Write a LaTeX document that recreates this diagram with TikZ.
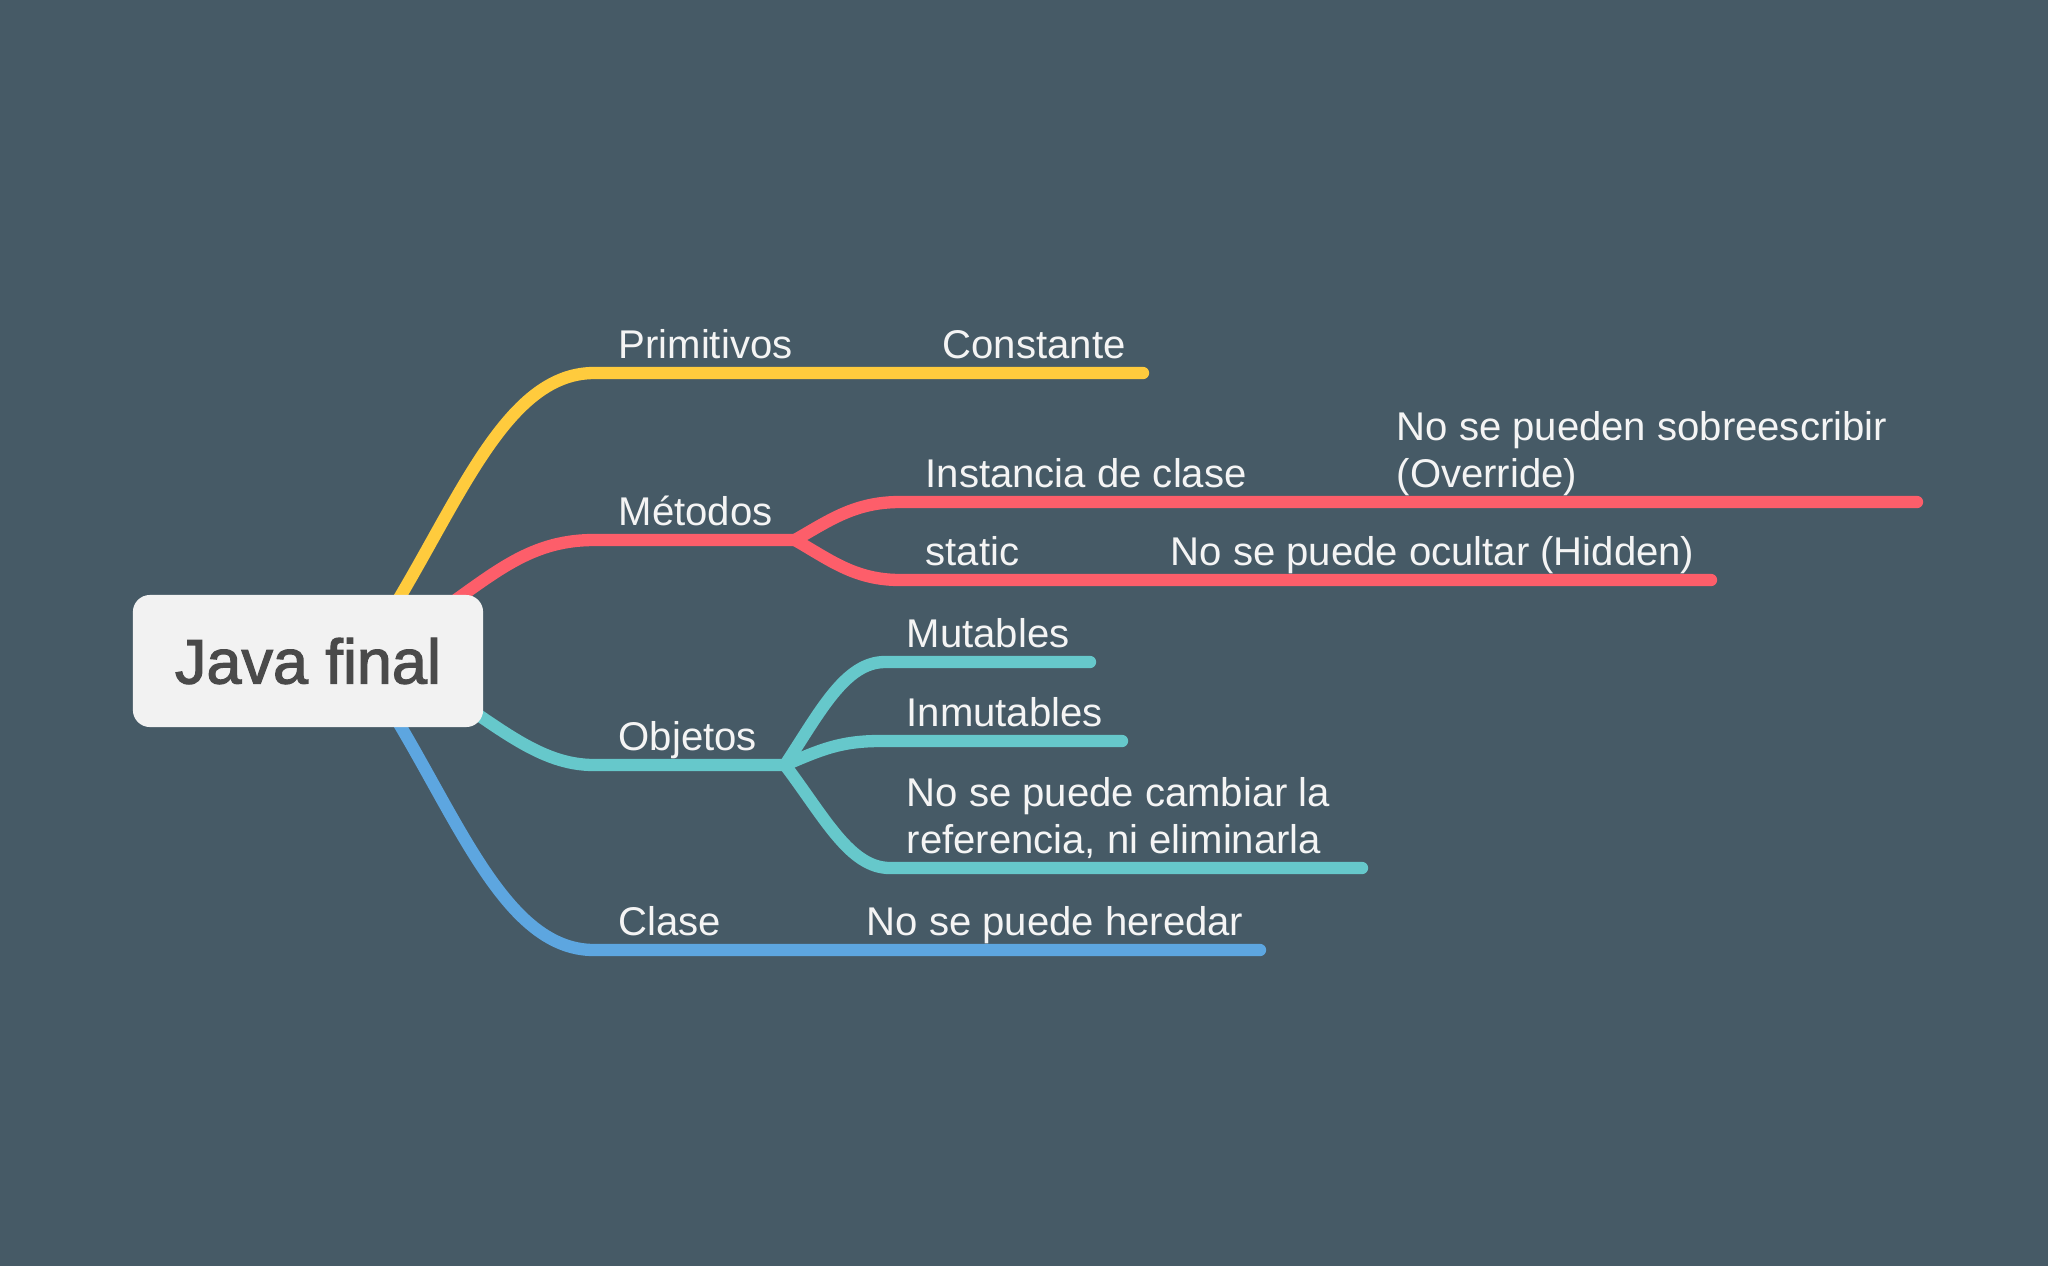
\documentclass[tikz,border=0pt]{standalone}
\usepackage{fontspec}
\usepackage{xcolor}
\setmainfont{Liberation Sans}
\newfontfamily\rootfont[FakeBold=2]{Liberation Sans}

\definecolor{bgslate}{HTML}{465A66}
\definecolor{rootfill}{HTML}{F2F2F2}
\definecolor{rootink}{HTML}{4A4A4A}
\definecolor{topicink}{HTML}{F4F4F4}
\definecolor{yelbranch}{HTML}{FFCB3D}
\definecolor{redbranch}{HTML}{FD5E6A}
\definecolor{tealbranch}{HTML}{66C8CB}
\definecolor{bluebranch}{HTML}{5DA6E0}

\tikzset{
  branch/.style={line width=3.5pt, line cap=round},
  topic/.style={anchor=south west, inner sep=0pt, text depth=0pt, align=left,
    text=topicink, font=\fontsize{11.4}{13.4}\selectfont},
  rootbox/.style={fill=rootfill, rounded corners=0.17cm, minimum width=3.5cm,
    minimum height=1.32cm, text=rootink, font=\rootfont\fontsize{17.9}{20}\selectfont}
}

\begin{document}
\begin{tikzpicture}[x=0.01cm, y=-0.01cm]
  \fill[bgslate] (0,0) rectangle (2048,1266);

  % branch knots
  \coordinate (yel0) at (373,640);
  \coordinate (red0) at (420,625);
  \coordinate (teal0) at (430,682);
  \coordinate (blue0) at (373,682);
  \coordinate (prim-l) at (594,373);
  \coordinate (const-r) at (1143,373);
  \coordinate (met-l) at (594,540);
  \coordinate (met-r) at (795,540);
  \coordinate (inst-l) at (900,502);
  \coordinate (over-r) at (1917,502);
  \coordinate (stat-l) at (900,580);
  \coordinate (hid-r) at (1711,580);
  \coordinate (obj-l) at (594,765);
  \coordinate (obj-r) at (785,765);
  \coordinate (mut-l) at (885,662);
  \coordinate (mut-r) at (1090,662);
  \coordinate (inmut-l) at (880,741);
  \coordinate (inmut-r) at (1122,741);
  \coordinate (ref-l) at (890,868);
  \coordinate (ref-r) at (1362,868);
  \coordinate (clase-l) at (594,950);
  \coordinate (hered-r) at (1260,950);

  \draw[branch, yelbranch] (yel0) .. controls (453,520) and (500,373) .. (prim-l) -- (const-r);

  \draw[branch, redbranch] (red0) .. controls (490,578) and (525,540) .. (met-l) -- (met-r);
  \draw[branch, redbranch] (met-r) .. controls (830,520) and (855,502) .. (inst-l) -- (over-r);
  \draw[branch, redbranch] (met-r) .. controls (830,560) and (855,580) .. (stat-l) -- (hid-r);

  \draw[branch, tealbranch] (teal0) .. controls (500,728) and (540,765) .. (obj-l) -- (obj-r);
  \draw[branch, tealbranch] (obj-r) .. controls (820,712) and (845,662) .. (mut-l) -- (mut-r);
  \draw[branch, tealbranch] (obj-r) .. controls (820,750) and (840,741) .. (inmut-l) -- (inmut-r);
  \draw[branch, tealbranch] (obj-r) .. controls (825,818) and (850,868) .. (ref-l) -- (ref-r);

  \draw[branch, bluebranch] (blue0) .. controls (453,802) and (500,950) .. (clase-l) -- (hered-r);

  \node[rootbox] (root) at (308,661) {Java final};

  \node[topic] (prim) at (618,359) {Primitivos};
  \node[topic] (const) at (942,359) {Constante};
  \node[topic] (met) at (618,526) {Métodos};
  \node[topic] (inst) at (925,488) {Instancia de clase};
  \node[topic] (over) at (1396,488) {No se pueden sobreescribir\\(Override)};
  \node[topic] (stat) at (925,566) {static};
  \node[topic] (hid) at (1170,566) {No se puede ocultar (Hidden)};
  \node[topic] (obj) at (618,751) {Objetos};
  \node[topic] (mut) at (906,648) {Mutables};
  \node[topic] (inmut) at (906,727) {Inmutables};
  \node[topic] (ref) at (906,854) {No se puede cambiar la\\referencia, ni eliminarla};
  \node[topic] (clase) at (618,936) {Clase};
  \node[topic] (hered) at (866,936) {No se puede heredar};
\end{tikzpicture}
\end{document}
